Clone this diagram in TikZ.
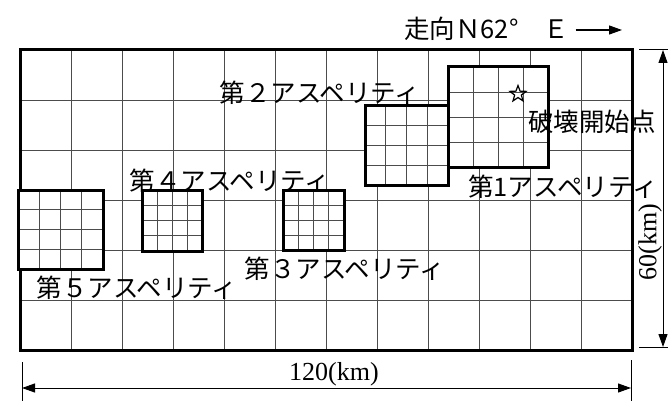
\documentclass[tikz,border=0pt]{standalone}
\usepackage{fontspec}
\setmainfont{Liberation Serif}
\newfontfamily\jp{Noto Sans CJK JP}
\usetikzlibrary{arrows.meta,shapes.geometric}

\newcommand{\aspbox}[5]{%
  \coordinate (#1nw) at (#2,#3);
  \coordinate (#1se) at (#4,#5);
  \fill[white] (#1nw) rectangle (#1se);
  \foreach \k in {1,2,3}{%
    \draw[aspgrid] ({#2+(#4-#2)*\k/4},#3) -- ({#2+(#4-#2)*\k/4},#5);
    \draw[aspgrid] (#2,{#3+(#5-#3)*\k/4}) -- (#4,{#3+(#5-#3)*\k/4});
  }
  \draw[aspframe] (#1nw) rectangle (#1se);
}

\begin{document}
\begin{tikzpicture}[x=1pt,y=-1pt,
  gridln/.style={draw=black!70, line width=0.9pt},
  aspgrid/.style={draw=black!70, line width=0.8pt},
  outerframe/.style={draw=black, line width=3pt},
  aspframe/.style={draw=black, line width=3pt},
  lbl/.style={font=\jp\fontsize{25.5}{27}\selectfont, inner sep=0pt},
  dimlbl/.style={font=\fontsize{26}{28}\selectfont, inner sep=0pt},
  dimline/.style={line width=1pt, {Triangle[length=13pt,width=9pt]}-{Triangle[length=13pt,width=9pt]}},
  dimtick/.style={line width=1pt}]
\useasboundingbox (0,0) rectangle (668,401);

% background grid 12 x 6
\foreach \i in {1,...,11}{
  \draw[gridln] ({20+51*\i},50) -- ({20+51*\i},350);
}
\foreach \j in {1,...,5}{
  \draw[gridln] (20,{50+50*\j}) -- (632,{50+50*\j});
}
\coordinate (fnw) at (20,50);
\coordinate (fse) at (632,350);
\draw[outerframe] (fnw) rectangle (fse);

% asperities
\aspbox{a1}{448}{67}{548}{167}
\aspbox{a2}{365}{105}{448}{185}
\aspbox{a3}{283}{190}{344}{250}
\aspbox{a4}{142}{190}{202}{251}
\aspbox{a5}{18}{190}{103}{269}

% labels
\node[lbl] (l2) at (320,93) {第２アスペリティ};
\node[lbl] (l1) at (563,187) {第1アスペリティ};
\node[lbl] (l4) at (230,181) {第４アスペリティ};
\node[lbl] (l3) at (345,269) {第３アスペリティ};
\node[lbl] (l5) at (137,288) {第５アスペリティ};
\node[lbl] (hyp) at (592,122) {破壊開始点};
\node[star, star points=5, star point ratio=2.4, draw, line width=1.2pt,
      minimum size=17pt, inner sep=0pt] (star) at (518,94) {};

% strike direction
\node[lbl, anchor=west] (dir) at (404,29) {走向Ｎ62°　Ｅ};
\coordinate (dirend) at (622,30);
\draw[line width=1.2pt, -{Triangle[length=13pt,width=9pt]}] ([xshift=6pt,yshift=-1pt]dir.east) -- (dirend);

% vertical dimension
\coordinate (vt1) at (639,50);  \coordinate (vt2) at (668,50);
\coordinate (vb1) at (639,347); \coordinate (vb2) at (668,347);
\coordinate (vtop) at (663,50); \coordinate (vbot) at (663,347);
\draw[dimtick] (vt1) -- (vt2);
\draw[dimtick] (vb1) -- (vb2);
\draw[dimline] (vtop) -- (vbot);
\node[dimlbl, rotate=90] (vlbl) at (650,242) {60(km)};

% horizontal dimension
\coordinate (hl1) at (22,362); \coordinate (hl2) at (22,401);
\coordinate (hr1) at (631,360); \coordinate (hr2) at (631,401);
\coordinate (hleft) at (22,388); \coordinate (hright) at (631,388);
\draw[dimtick] (hl1) -- (hl2);
\draw[dimtick] (hr1) -- (hr2);
\draw[dimline] (hleft) -- (hright);
\node[dimlbl] (hlbl) at (334,374) {120(km)};
\end{tikzpicture}
\end{document}
